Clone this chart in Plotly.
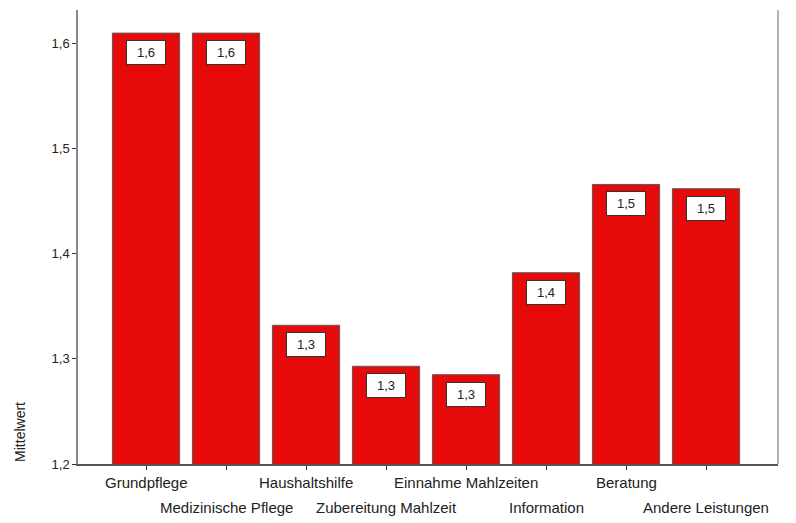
import plotly.graph_objects as go

categories = ['Grundpflege', 'Medizinische Pflege', 'Haushaltshilfe', 'Zubereitung Mahlzeit',
              'Einnahme Mahlzeiten', 'Information', 'Beratung', 'Andere Leistungen']
mittelwert = [1.610, 1.610, 1.332, 1.293, 1.285, 1.382, 1.466, 1.462]
y_ticks = [1.2, 1.3, 1.4, 1.5, 1.6]

x = list(range(len(categories)))

fig = go.Figure()

fig.add_trace(go.Bar(
    x=x, y=mittelwert,
    width=0.84,
    marker=dict(color='#e60a0a', line=dict(color='#5a5a5a', width=1)),
    showlegend=False,
))

# value labels in white boxes near the bar tops
for xi, v in zip(x, mittelwert):
    fig.add_annotation(
        x=xi, y=v, text=f'{v:.1f}'.replace('.', ','),
        showarrow=False, yanchor='top', yshift=-7,
        font=dict(family='Liberation Sans, Arial', size=13, color='#222'),
        bgcolor='white', bordercolor='#333', borderwidth=1, borderpad=4,
        width=30,
    )

# staggered category labels: every second one on a lower row
for xi, c in zip(x, categories):
    fig.add_annotation(
        x=xi, y=0, yref='paper', text=c, showarrow=False,
        yanchor='top', yshift=-8 if xi % 2 == 0 else -33,
        font=dict(family='Liberation Sans, Arial', size=15, color='#222'),
    )

fig.add_annotation(
    x=-0.083, y=0.0, xref='paper', yref='paper',
    text='Mittelwert', textangle=-90, showarrow=False,
    xanchor='center', yanchor='bottom',
    font=dict(family='Liberation Sans, Arial', size=14, color='#222'),
)

# right frame line
fig.add_shape(type='line', xref='paper', yref='paper', x0=1, x1=1, y0=0, y1=1,
              line=dict(color='#999', width=1.5))

# page adds 8px body margin, so figure is 8px smaller
fig.update_layout(
    width=788, height=515,
    margin=dict(l=70, r=18, t=2, b=59),
    plot_bgcolor='white', paper_bgcolor='white',
    separators=',.',
    font=dict(family='Liberation Sans, Arial', size=13, color='#222'),
)

fig.update_xaxes(
    range=[-0.85, 7.9],
    tickvals=x, showticklabels=False, automargin=False,
    ticks='outside', ticklen=4, tickcolor='#333',
    showline=True, linecolor='#555', linewidth=1.5,
    showgrid=False, zeroline=False,
)

fig.update_yaxes(
    range=[1.2, 1.632],
    tickvals=y_ticks, tickformat='.1f', automargin=False,
    ticks='outside', ticklen=4, tickcolor='#333',
    showline=True, linecolor='#888', linewidth=1.5,
    showgrid=False, zeroline=False,
    tickfont=dict(size=13),
)

fig.write_html('out.html')
